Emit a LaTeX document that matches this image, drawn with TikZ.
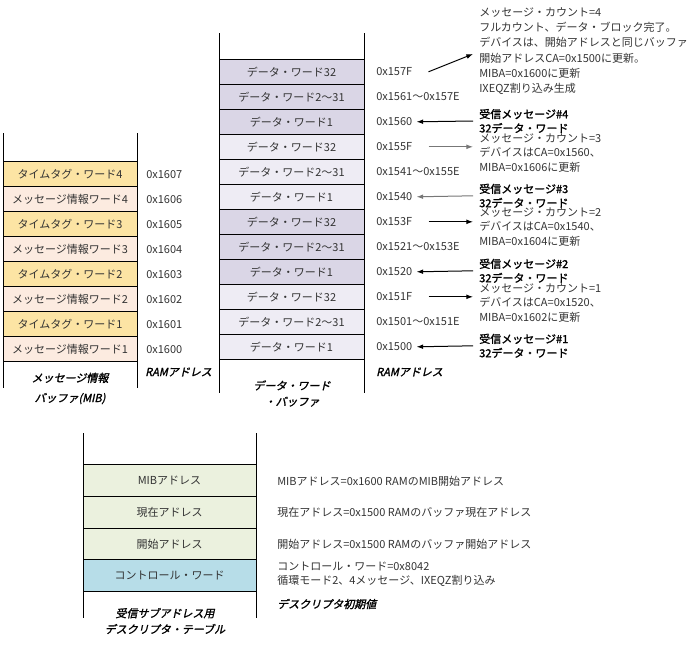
\documentclass[tikz,border=0pt]{standalone}
\usepackage{fontspec}
\setmainfont{Noto Sans CJK JP}
\newfontfamily\jpb{Noto Sans CJK JP}[FakeBold=1.5]
\newfontfamily\jpbi{Noto Sans CJK JP}[FakeSlant=0.22,FakeBold=1.5]
\usetikzlibrary{arrows.meta}
\definecolor{tagY}{HTML}{FCE4A4}
\definecolor{infoP}{HTML}{FCEBE0}
\definecolor{datD}{HTML}{DAD6E6}
\definecolor{datL}{HTML}{EEECF4}
\definecolor{grn}{HTML}{EBF1DE}
\definecolor{blu}{HTML}{B7DDE8}
\definecolor{txt}{HTML}{333333}
\definecolor{garr}{HTML}{777777}
\begin{document}
\begin{tikzpicture}[x=0.75pt,y=-0.75pt,
  font=\fontsize{8.25}{11.5}\selectfont,
  cellbase/.style={draw=black, line width=0.75pt, inner sep=0pt, text=txt},
  cellM/.style={cellbase, minimum width=100.5pt, minimum height=18.75pt},
  cellD/.style={cellbase, minimum width=108.75pt, minimum height=18.75pt},
  cellB/.style={cellbase, minimum width=129.75pt, minimum height=23.75pt},
  addr/.style={anchor=west, inner sep=0pt, text=txt},
  note/.style={anchor=west, inner sep=0pt, align=left, text=txt},
  cnote/.style={note, font=\fontsize{8.25}{10.8}\selectfont},
  bnote/.style={anchor=west, inner sep=0pt, align=left, text=black, font=\jpb\fontsize{8.25}{10.6}\selectfont},
  captxt/.style={inner sep=0pt, align=center, text=black, font=\jpbi\fontsize{8.25}{12}\selectfont},
  captxtl/.style={captxt, anchor=west},
  frameline/.style={line width=0.75pt, draw=black},
  arr/.style={-{Latex[length=5pt,width=3.6pt]}, line width=0.75pt}
]
\useasboundingbox (0,0) rectangle (699,646);

% ---------- MIB ----------
\draw[frameline] (3,133) -- (3,388);
\draw[frameline] (137,133) -- (137,388);
\node[cellM, fill=tagY]  (m1) at (70,174.2) {タイムタグ・ワード4};
\node[cellM, fill=infoP] (m2) at (70,199.2) {メッセージ情報ワード4};
\node[cellM, fill=tagY]  (m3) at (70,224.2) {タイムタグ・ワード3};
\node[cellM, fill=infoP] (m4) at (70,249.2) {メッセージ情報ワード3};
\node[cellM, fill=tagY]  (m5) at (70,274.2) {タイムタグ・ワード2};
\node[cellM, fill=infoP] (m6) at (70,299.2) {メッセージ情報ワード2};
\node[cellM, fill=tagY]  (m7) at (70,324.2) {タイムタグ・ワード1};
\node[cellM, fill=infoP] (m8) at (70,349.2) {メッセージ情報ワード1};
\node[addr] (ma1) at (146,174.2) {0x1607};
\node[addr] (ma2) at (146,199.2) {0x1606};
\node[addr] (ma3) at (146,224.2) {0x1605};
\node[addr] (ma4) at (146,249.2) {0x1604};
\node[addr] (ma5) at (146,274.2) {0x1603};
\node[addr] (ma6) at (146,299.2) {0x1602};
\node[addr] (ma7) at (146,324.2) {0x1601};
\node[addr] (ma8) at (146,349.2) {0x1600};
\node[captxtl] (ramM) at (145,372) {RAMアドレス};
\node[captxt] (capM) at (70,388.5) {メッセージ情報\\[3pt]バッファ(MIB)};

% ---------- Data word buffer ----------
\draw[frameline] (219,33) -- (219,393);
\draw[frameline] (364,33) -- (364,393);
\node[cellD, fill=datD] (d0)  at (291.5,71.8)  {データ・ワード32};
\node[cellD, fill=datD] (d1)  at (291.5,96.8)  {データ・ワード2～31};
\node[cellD, fill=datD] (d2)  at (291.5,121.8) {データ・ワード1};
\node[cellD, fill=datL] (d3)  at (291.5,146.8) {データ・ワード32};
\node[cellD, fill=datL] (d4)  at (291.5,171.8) {データ・ワード2～31};
\node[cellD, fill=datL] (d5)  at (291.5,196.8) {データ・ワード1};
\node[cellD, fill=datD] (d6)  at (291.5,221.8) {データ・ワード32};
\node[cellD, fill=datD] (d7)  at (291.5,246.8) {データ・ワード2～31};
\node[cellD, fill=datD] (d8)  at (291.5,271.8) {データ・ワード1};
\node[cellD, fill=datL] (d9)  at (291.5,296.8) {データ・ワード32};
\node[cellD, fill=datL] (d10) at (291.5,321.8) {データ・ワード2～31};
\node[cellD, fill=datL] (d11) at (291.5,346.8) {データ・ワード1};
\node[addr] (a157F) at (376,71.8)  {0x157F};
\node[addr] (a1561) at (376,96.8)  {0x1561～0x157E};
\node[addr] (a1560) at (376,121.8) {0x1560};
\node[addr] (a155F) at (376,146.8) {0x155F};
\node[addr] (a1541) at (376,171.8) {0x1541～0x155E};
\node[addr] (a1540) at (376,196.8) {0x1540};
\node[addr] (a153F) at (376,221.8) {0x153F};
\node[addr] (a1521) at (376,246.8) {0x1521～0x153E};
\node[addr] (a1520) at (376,271.8) {0x1520};
\node[addr] (a151F) at (376,296.8) {0x151F};
\node[addr] (a1501) at (376,321.8) {0x1501～0x151E};
\node[addr] (a1500) at (376,346.8) {0x1500};
\node[captxtl] (ramD) at (376,372) {RAMアドレス};
\node[captxt] (capD) at (292,393.5) {データ・ワード\\・バッファ};

% ---------- notes on the right ----------
\node[note] (top) at (479,51) {メッセージ・カウント=4\\フルカウント、データ・ブロック完了。\\デバイスは、開始アドレスと同じバッファ\\開始アドレスCA=0x1500に更新。\\MIBA=0x1600に更新\\IXEQZ割り込み生成};
\node[bnote] (rm4) at (479,121) {受信メッセージ\#4\\32データ・ワード};
\node[cnote] (c3)  at (479,153) {メッセージ・カウント=3\\デバイスはCA=0x1560、\\MIBA=0x1606に更新};
\node[bnote] (rm3) at (479,195.8) {受信メッセージ\#3\\32データ・ワード};
\node[cnote] (c2)  at (479,227) {メッセージ・カウント=2\\デバイスはCA=0x1540、\\MIBA=0x1604に更新};
\node[bnote] (rm2) at (479,270.8) {受信メッセージ\#2\\32データ・ワード};
\node[cnote] (c1)  at (479,303) {メッセージ・カウント=1\\デバイスはCA=0x1520、\\MIBA=0x1602に更新};
\node[bnote] (rm1) at (479,345.8) {受信メッセージ\#1\\32データ・ワード};

\coordinate (topTip) at (473,54);
\draw[arr] ([xshift=12pt]a157F.east) -- (topTip);
\draw[arr] ([xshift=-4.5pt]rm4.west) -- ([xshift=3pt]a1560.east);
\draw[arr, garr] ([xshift=12pt]a155F.east) -- ([xshift=-4.5pt]a155F.east -| c3.west);
\draw[arr, garr] ([xshift=-4.5pt]rm3.west) -- ([xshift=3pt]a1540.east);
\draw[arr] ([xshift=12pt]a153F.east) -- ([xshift=-4.5pt]a153F.east -| c2.west);
\draw[arr] ([xshift=-4.5pt]rm2.west) -- ([xshift=3pt]a1520.east);
\draw[arr] ([xshift=12pt]a151F.east) -- ([xshift=-4.5pt]a151F.east -| c1.west);
\draw[arr] ([xshift=-4.5pt]rm1.west) -- ([xshift=3pt]a1500.east);

% ---------- descriptor table ----------
\draw[frameline] (83,433) -- (83,618);
\draw[frameline] (256,433) -- (256,618);
\node[cellB, fill=grn] (b1) at (169.5,480.8) {MIBアドレス};
\node[cellB, fill=grn] (b2) at (169.5,512.5) {現在アドレス};
\node[cellB, fill=grn] (b3) at (169.5,544.2) {開始アドレス};
\node[cellB, fill=blu] (b4) at (169.5,575.8) {コントロール・ワード};
\node[note] (n1) at (277,481) {MIBアドレス=0x1600 RAMのMIB開始アドレス};
\node[note] (n2) at (277,512.5) {現在アドレス=0x1500 RAMのバッファ現在アドレス};
\node[note] (n3) at (277,544.2) {開始アドレス=0x1500 RAMのバッファ開始アドレス};
\node[note, font=\fontsize{8.25}{10.2}\selectfont] (n4) at (277,574) {コントロール・ワード=0x8042\\循環モード2、4メッセージ、IXEQZ割り込み};
\node[captxtl] (capInit) at (277,604) {デスクリプタ初期値};
\node[captxt] (capB) at (165,621) {受信サブアドレス用\\デスクリプタ・テーブル};
\end{tikzpicture}
\end{document}
